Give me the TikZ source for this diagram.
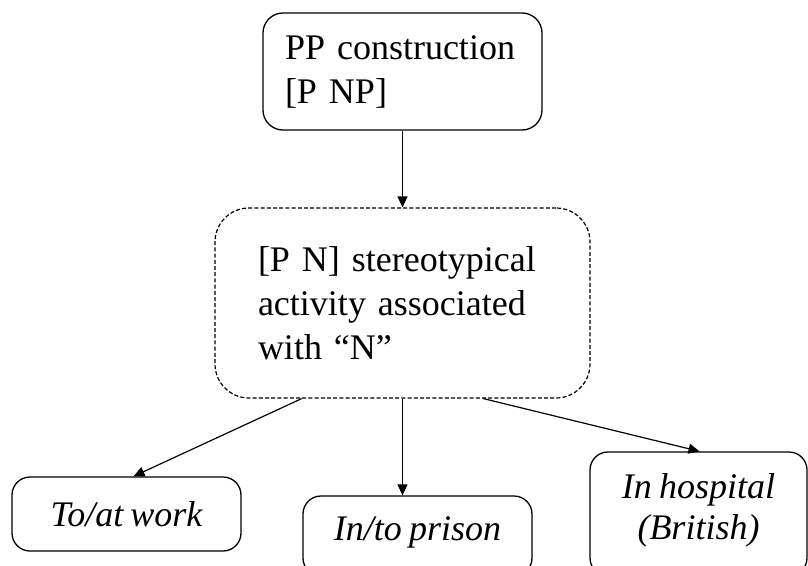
\documentclass[tikz,border=0pt]{standalone}
\usepackage{fontspec}
\setmainfont{Liberation Serif}[WordSpace=0.8]
\usetikzlibrary{arrows.meta,calc}
\begin{document}
\begin{tikzpicture}[x=1pt,y=-1pt,
  every node/.style={font=\fontsize{36}{44}\selectfont},
  box/.style={draw, line width=1.3pt, rounded corners=#1, inner sep=0pt},
  box/.default=18pt,
  link/.style={line width=1.2pt, -{Triangle[length=11pt,width=10pt]}}]
  \useasboundingbox (0,0) rectangle (808,565);

  % root construction
  \node[box=20pt, minimum width=279pt, minimum height=117pt,
        text width=235pt, align=left] (pp) at (402.5,71.5)
        {PP construction\\\relax [P NP]};

  % dashed intermediate schema
  \node[box=34pt, dash pattern=on 4pt off 2.2pt, line width=1.2pt,
        minimum width=375pt, minimum height=190pt,
        text width=289pt, align=left] (pn) at (402.5,303)
        {\relax [P N] stereotypical\\activity associated\\with “N”};

  % instances (the lower two frames run past the bottom edge)
  \node[box, minimum width=229pt, minimum height=74pt] (work) at (126.5,514)
        {\itshape To/at work};
  \node[box, minimum width=229pt, minimum height=80pt] (prison) at (417.5,536) {};
  \node (prisonlabel) at (417.5,532) {\itshape In/to prison};
  \node[box, minimum width=217pt, minimum height=124pt] (hosp) at (698.5,514) {};
  \node[align=center, font=\fontsize{36}{41}\selectfont] (hosplabel) at (698.5,510)
        {\itshape In hospital\\\itshape (British)};

  % connectors
  \draw[link] (pp.south) -- (pn.north);
  \draw[link] ($(pn.south west)!0.232!(pn.south east)$) -- ([xshift=7pt]work.north);
  \draw[link] (pn.south) -- (pn.south |- prison.north);
  \draw[link] ($(pn.south west)!0.715!(pn.south east)$) -- ([xshift=1pt]hosp.north);
\end{tikzpicture}
\end{document}
